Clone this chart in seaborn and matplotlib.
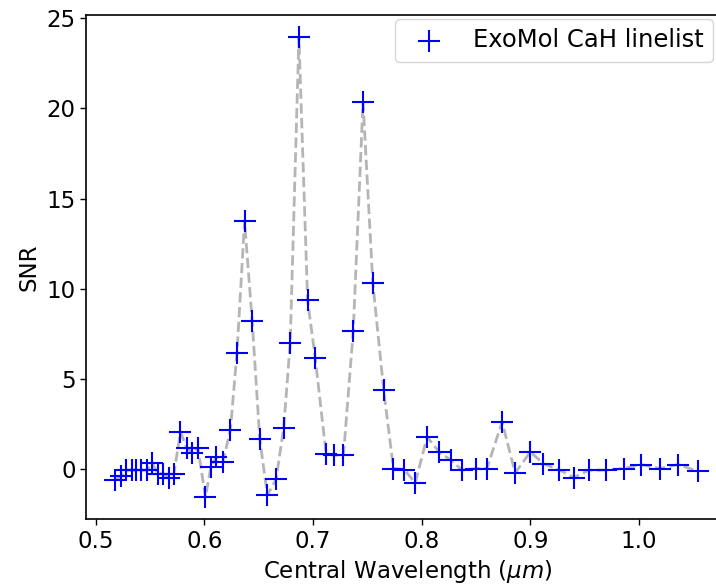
import matplotlib
matplotlib.use("Agg")
import matplotlib.pyplot as plt
import seaborn as sns
import pandas as pd

wavelength = [0.518, 0.523, 0.528, 0.533, 0.537, 0.542, 0.547, 0.552, 0.557, 0.562,
              0.567, 0.572, 0.578, 0.584, 0.589, 0.594, 0.601, 0.606, 0.611, 0.617,
              0.624, 0.630, 0.637, 0.644, 0.651, 0.658, 0.666, 0.673, 0.679, 0.687,
              0.695, 0.702, 0.712, 0.719, 0.728, 0.737, 0.746, 0.755, 0.765, 0.774,
              0.784, 0.794, 0.805, 0.816, 0.827, 0.837, 0.850, 0.860, 0.874, 0.886,
              0.900, 0.912, 0.926, 0.940, 0.954, 0.970, 0.986, 1.002, 1.019, 1.036,
              1.054]
snr = [-0.6, -0.4, -0.05, -0.05, -0.05, -0.05, -0.05, 0.35, -0.24, -0.24,
       -0.5, -0.24, 2.07, 1.15, 0.9, 1.2, -1.55, 0.13, 0.68, 0.4,
       2.2, 6.46, 13.74, 8.22, 1.66, -1.44, -0.55, 2.29, 7.02, 23.95,
       9.36, 6.17, 0.87, 0.78, 0.78, 7.66, 20.35, 10.34, 4.4, 0.04,
       -0.02, -0.76, 1.79, 0.96, 0.5, -0.05, 0.04, 0.04, 2.62, -0.2,
       0.96, 0.31, -0.02, -0.46, -0.05, -0.05, 0.04, 0.26, 0.04, 0.26,
       -0.11]
series_label = "ExoMol CaH linelist"

df = pd.DataFrame({"wl": wavelength, "snr": snr})

sns.set_style("ticks")
plt.rcParams["font.family"] = ["DejaVu Sans"]
for k in ["text.color", "axes.labelcolor", "xtick.color", "ytick.color", "axes.edgecolor"]:
    plt.rcParams[k] = "black"

fig = plt.figure(figsize=(7.16, 5.86), dpi=100)
ax = fig.add_axes([0.120, 0.114, 0.900, 0.860])

sns.lineplot(data=df, x="wl", y="snr", ax=ax, color="#b5b5b5",
             linestyle="--", linewidth=2, sort=False)
sns.scatterplot(data=df, x="wl", y="snr", ax=ax, marker="+", s=256,
                color="#0000ff", linewidth=1.5, label=series_label, zorder=3)

ax.set_xlim(0.491, 1.084)
ax.set_ylim(-2.77, 25.17)
ax.set_xticks([0.5, 0.6, 0.7, 0.8, 0.9, 1.0])
ax.set_yticks([0, 5, 10, 15, 20, 25])
ax.tick_params(labelsize=16.5, length=4, width=1, colors="black")
ax.set_xlabel(r"Central Wavelength ($\mu m$)", fontsize=16.5)
ax.set_ylabel("SNR", fontsize=16.5)
for s in ax.spines.values():
    s.set_linewidth(1.2)
    s.set_color("black")

ax.legend(loc="upper right", bbox_to_anchor=(0.996, 0.968),
          bbox_transform=fig.transFigure, borderaxespad=0, fontsize=17.5,
          frameon=True, fancybox=True, framealpha=0.8, edgecolor="#cccccc")

fig.savefig("out.png", dpi=100)
